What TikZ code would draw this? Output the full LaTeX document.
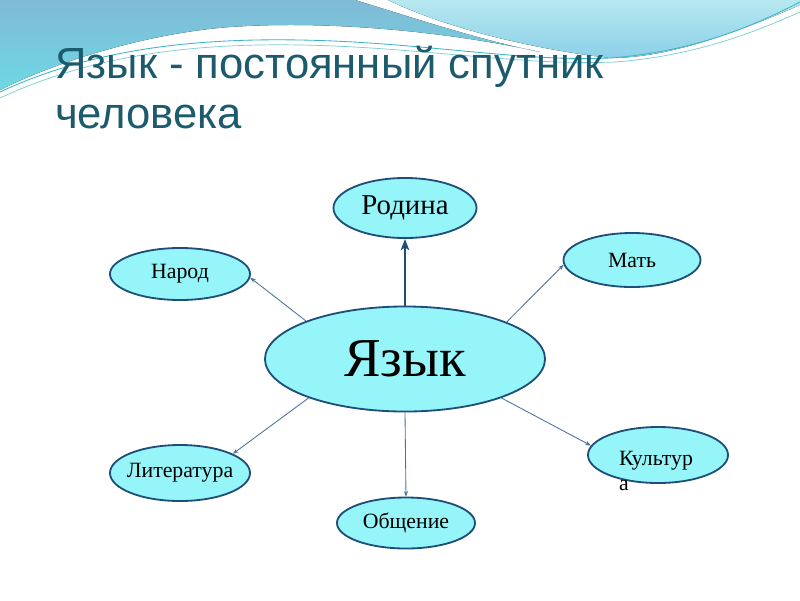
\documentclass[tikz,border=0pt]{standalone}
\usepackage{fontspec}
\setmainfont{Liberation Serif}
\newfontfamily\titlefont{Liberation Sans}
\usepackage{tikz}
\usetikzlibrary{arrows.meta,shapes.geometric}
\definecolor{bubblefill}{RGB}{150,245,248}
\definecolor{bubbleline}{RGB}{31,78,121}
\definecolor{linkblue}{RGB}{74,111,160}
\definecolor{titleteal}{RGB}{28,90,110}
\definecolor{bandtop}{RGB}{128,186,214}
\definecolor{bandlow}{RGB}{110,216,228}
\definecolor{swirltop}{RGB}{182,232,240}
\definecolor{swirllow}{RGB}{140,208,232}
\definecolor{wavecolor}{RGB}{60,182,196}
\newcommand{\zw}[1]{\makebox[0pt]{#1}}

\begin{document}
\begin{tikzpicture}[x=0.025cm,y=-0.025cm,
  bubble/.style={ellipse,draw=bubbleline,line width=1.3pt,fill=bubblefill,inner sep=0pt},
  link/.style={draw=linkblue,line width=0.6pt,-{Stealth[length=4pt,width=3pt]}},
  mainlink/.style={draw=bubbleline,line width=1.6pt,-{Stealth[length=8pt,width=6pt,inset=2pt]}},
  smalltext/.style={font=\fontsize{15.5}{18}\selectfont}]
  \useasboundingbox (0,0) rectangle (800,600);
  \fill[white] (0,0) rectangle (800,600);
  % waves at the top
  \fill[top color=bandtop,bottom color=bandlow] (0,0) -- (355,0)
    .. controls (420,20) and (480,40) .. (540,52)
    .. controls (450,32) and (330,20) .. (230,27)
    .. controls (150,33) and (60,60) .. (0,90) -- cycle;
  \fill[top color=swirltop,bottom color=swirllow] (388,0) -- (800,0) -- (800,5)
    .. controls (720,40) and (660,58) .. (610,58)
    .. controls (540,50) and (450,30) .. (388,0) -- cycle;
  \draw[wavecolor,line width=0.6pt] (0,92) .. controls (90,50) and (190,38) .. (300,40)
    .. controls (420,42) and (520,62) .. (610,58) .. controls (690,52) and (750,28) .. (800,2);
  \draw[wavecolor!70,line width=0.5pt] (0,98) .. controls (90,56) and (190,43) .. (300,45)
    .. controls (420,47) and (520,66) .. (615,62) .. controls (695,56) and (755,32) .. (800,12);
  % title
  \node[anchor=base west,inner sep=0pt,text=titleteal,font=\titlefont\fontsize{31}{36}\selectfont]
    (title1) at (55,78) {Язык - постоянный спутник};
  \node[anchor=base west,inner sep=0pt,text=titleteal,font=\titlefont\fontsize{31}{36}\selectfont]
    (title2) at (55,128) {человека};
  % bubbles
  \node[bubble,minimum width=7cm,minimum height=2.625cm,font=\fontsize{39}{42}\selectfont]
    (yazyk) at (405,359) {\zw{Язык}};
  \node[bubble,minimum width=3.575cm,minimum height=1.5cm,font=\fontsize{20.5}{24}\selectfont]
    (rodina) at (405,208) {\zw{Родина}};
  \node[bubble,smalltext,minimum width=3.5cm,minimum height=1.3cm] (narod) at (180,274) {\zw{Народ}};
  \node[bubble,smalltext,minimum width=3.425cm,minimum height=1.35cm] (mat) at (632,260) {\zw{Мать}};
  \node[bubble,smalltext,minimum width=3.5cm,minimum height=1.4cm] (lit) at (180,473) {\zw{Литература}};
  \node[bubble,smalltext,minimum width=3.45cm,minimum height=1.275cm] (obsh) at (406,523) {\zw{Общение}};
  \node[bubble,minimum width=3.5cm,minimum height=1.4cm] (kult) at (658,455) {};
  \node[smalltext,align=left,inner sep=0pt] (kultword) at (656,471) {Культур\\а};
  % connectors
  \draw[mainlink] (yazyk.north) -- (rodina.south);
  \draw[link] (yazyk.159) -- (narod.-3);
  \draw[link] (yazyk.20) -- (mat.184);
  \draw[link] (yazyk.202) -- (lit.20);
  \draw[link] (yazyk.south) -- (obsh.north);
  \draw[link] (yazyk.-22) -- (kult.172);
\end{tikzpicture}
\end{document}
